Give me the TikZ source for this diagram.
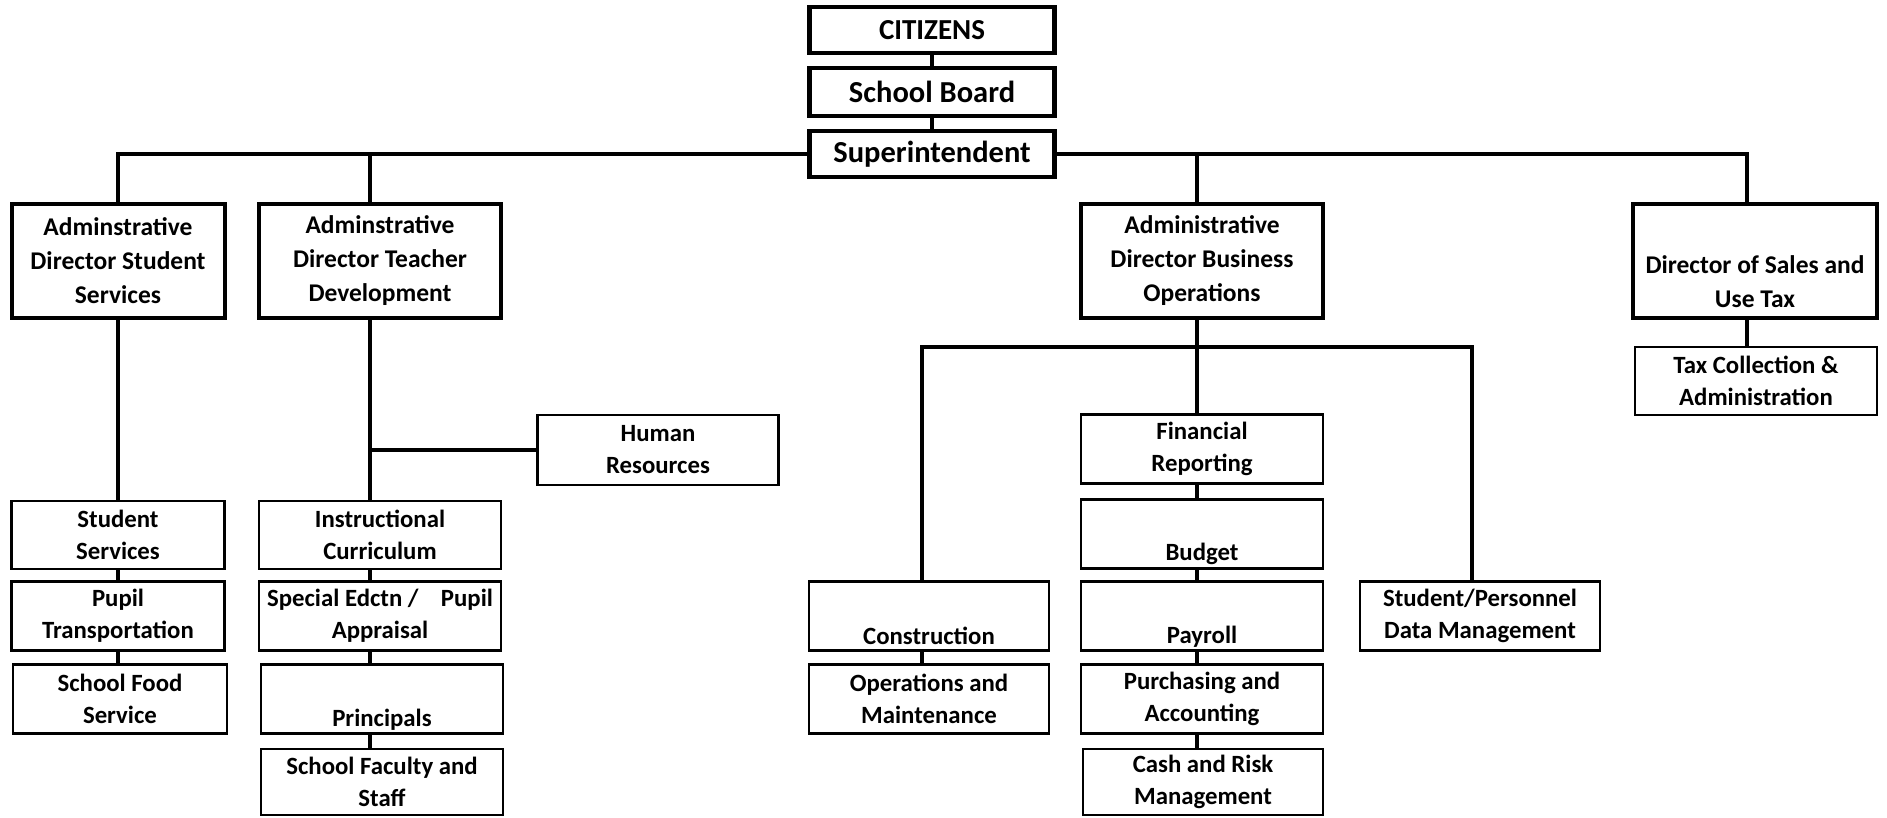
\documentclass[tikz,border=0pt]{standalone}
\usepackage{fontspec}
\setmainfont{Carlito}
\begin{document}
\begin{tikzpicture}[x=1pt,y=-1pt,
  box/.style={draw, rectangle, inner sep=0pt, align=center},
  topbox/.style={box, line width=4.5pt, minimum width=245pt, font=\bfseries\fontsize{30.5}{34}\selectfont},
  dirbox/.style={box, line width=4pt, minimum height=113pt, font=\bfseries\fontsize{25.5}{34}\selectfont},
  subbox/.style={box, line width=2.8pt, font=\bfseries\fontsize{24.8}{32}\selectfont},
  conn/.style={line width=4pt}]
\useasboundingbox (0,0) rectangle (1887,818);
% coordinates for connector columns
\coordinate (tdx) at (370,0);
\coordinate (bx) at (1197,0);
\coordinate (conx) at (922,0);
\coordinate (spdx) at (1472,0);
\coordinate (taxx) at (1747,0);
\coordinate (split) at (1197,347);
% top
\node[topbox, minimum height=46pt, font=\bfseries\fontsize{29}{32}\selectfont] (cit) at (932,30) {CITIZENS};
\node[topbox, minimum height=48pt] (sb) at (932,92) {School Board};
\node[topbox, minimum height=46pt] (sup) at (932,154) {Superintendent};
% directors
\node[dirbox, minimum width=213pt] (adss) at (118,261) {Adminstrative\\Director Student\\Services};
\node[dirbox, minimum width=242pt] (adtd) at (380,261) {Adminstrative\\Director Teacher\\Development};
\node[dirbox, minimum width=242pt] (adbo) at (1202,261) {Administrative\\Director Business\\Operations};
\node[dirbox, minimum width=244pt] (dsut) at (1755,261) {~\\[26pt]Director of Sales and\\Use Tax};
\node[subbox, minimum width=242pt, minimum height=68pt] (tax) at (1756,381) {Tax Collection \&\\Administration};
% student services column
\node[subbox, minimum width=213pt, minimum height=68pt] (ss) at (118,535) {Student\\Services};
\node[subbox, minimum width=213pt, minimum height=69pt] (pt) at (118,616) {Pupil\\Transportation};
\node[subbox, minimum width=214pt, minimum height=69pt] (sfs) at (120,699) {School Food\\Service};
% teacher development column
\node[subbox, minimum width=241pt, minimum height=70pt] (hr) at (658,450) {Human\\Resources};
\node[subbox, minimum width=242pt, minimum height=68pt] (ic) at (380,535) {Instructional\\Curriculum};
\node[subbox, minimum width=242pt, minimum height=69pt] (se) at (380,616) {Special Edctn /\hspace{0.9em}Pupil\\Appraisal};
\node[subbox, minimum width=242pt, minimum height=69pt] (pr) at (382,699) {~\\[26pt]Principals};
\node[subbox, minimum width=242pt, minimum height=66pt] (sf) at (382,782) {School Faculty and\\Staff};
% business operations
\node[subbox, minimum width=240pt, minimum height=69pt] (con) at (929,616) {~\\[26pt]Construction};
\node[subbox, minimum width=240pt, minimum height=69pt] (om) at (929,699) {Operations and\\Maintenance};
\node[subbox, minimum width=242pt, minimum height=69pt] (fr) at (1202,449) {Financial\\Reporting};
\node[subbox, minimum width=242pt, minimum height=69pt] (bu) at (1202,534) {~\\[26pt]Budget};
\node[subbox, minimum width=242pt, minimum height=69pt] (pa) at (1202,616) {~\\[26pt]Payroll};
\node[subbox, minimum width=242pt, minimum height=69pt] (pu) at (1202,699) {Purchasing and\\Accounting};
\node[subbox, minimum width=240pt, minimum height=66pt] (cr) at (1203,782) {Cash and Risk\\Management};
\node[subbox, minimum width=240pt, minimum height=69pt] (spd) at (1480,616) {Student/Personnel\\Data Management};
% connectors
\draw[conn] (cit.south) -- (sb.north);
\draw[conn] (sb.south) -- (sup.north);
\draw[conn] (sup.west) -| (adss.north);
\draw[conn] (sup.east) -| (dsut.north -| taxx);
\draw[conn] (adtd.north -| tdx) -- (sup.west -| tdx);
\draw[conn] (adbo.north -| bx) -- (sup.east -| bx);
\draw[conn] (adss.south) -- (ss.north);
\draw[conn] (ss.south) -- (pt.north);
\draw[conn] (pt.south) -- (pt.south |- sfs.north);
\draw[conn] (adtd.south -| tdx) -- (ic.north -| tdx);
\draw[conn] (hr.west) -- (hr.west -| tdx);
\draw[conn] (ic.south -| tdx) -- (se.north -| tdx);
\draw[conn] (se.south -| tdx) -- (pr.north -| tdx);
\draw[conn] (pr.south -| tdx) -- (sf.north -| tdx);
\draw[conn] (adbo.south -| bx) -- (fr.north -| bx);
\draw[conn] (con.north -| conx) -- (conx |- split) -- (spdx |- split) -- (spd.north -| spdx);
\draw[conn] (fr.south -| bx) -- (bu.north -| bx);
\draw[conn] (bu.south -| bx) -- (pa.north -| bx);
\draw[conn] (pa.south -| bx) -- (pu.north -| bx);
\draw[conn] (pu.south -| bx) -- (cr.north -| bx);
\draw[conn] (con.south -| conx) -- (om.north -| conx);
\draw[conn] (dsut.south -| taxx) -- (tax.north -| taxx);
\end{tikzpicture}
\end{document}
